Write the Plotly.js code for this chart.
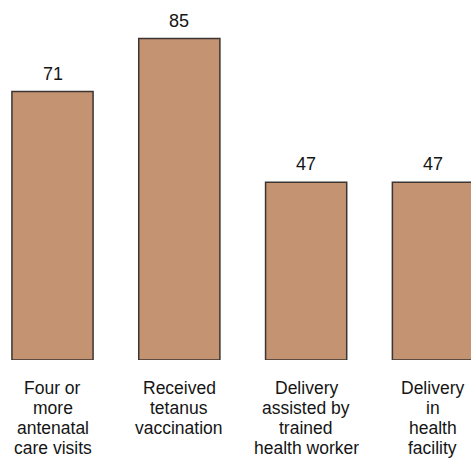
<!DOCTYPE html>
<html>
<head>
<meta charset="utf-8">
<script src="https://cdn.plot.ly/plotly-3.0.1.min.js"></script>
<style>
  html, body { margin: 0; padding: 0; background: #fff; }
  #chart { width: 471px; height: 460px; }
</style>
</head>
<body>
<div id="chart"></div>
<script>
// Maternal care indicators (percent)
const categories = ["antenatal", "tetanus", "assisted", "facility"];
const tickLabels = [
  ["Four or", "more", "antenatal", "care visits"],
  ["Received", "tetanus", "vaccination"],
  ["Delivery", "assisted by", "trained", "health worker"],
  ["Delivery", "in", "health", "facility"]
];
const values = [71, 85, 47, 47];

const FONT = "Liberation Sans, Arial, Helvetica, sans-serif";
const TEXT_COLOR = "#151515";
const idx = categories.map((_, i) => i);

const bars = {
  type: "bar",
  x: idx,
  y: values,
  width: 0.64,
  marker: {
    color: "#c39372",
    line: { color: "#3b3633", width: 1.5 }
  },
  hoverinfo: "skip"
};

// value labels above each bar
const valueLabels = values.map((v, i) => ({
  x: i, y: v, xref: "x", yref: "y",
  text: String(v),
  showarrow: false,
  yanchor: "bottom",
  yshift: 6,
  font: { family: FONT, size: 18, color: TEXT_COLOR }
}));

// category labels, one line at a time for tighter leading
const LINE_GAP = 20.3;
const categoryLabels = [];
tickLabels.forEach((lines, i) => {
  lines.forEach((line, j) => {
    categoryLabels.push({
      x: i, y: 0, xref: "x", yref: "y",
      text: line,
      showarrow: false,
      yanchor: "middle",
      yshift: -(27.5 + LINE_GAP * j),
      font: { family: FONT, size: 17.5, color: TEXT_COLOR }
    });
  });
});

const layout = {
  width: 471,
  height: 460,
  margin: { l: 0, r: 0, t: 0, b: 100 },
  paper_bgcolor: "#ffffff",
  plot_bgcolor: "#ffffff",
  showlegend: false,
  xaxis: {
    range: [-0.414, 3.30],
    tickvals: idx,
    showticklabels: false,
    showgrid: false,
    zeroline: false,
    showline: false,
    ticks: ""
  },
  yaxis: {
    range: [0, 95.2],
    visible: false
  },
  annotations: valueLabels.concat(categoryLabels)
};

Plotly.newPlot("chart", [bars], layout, { staticPlot: true, displayModeBar: false });
</script>
</body>
</html>
